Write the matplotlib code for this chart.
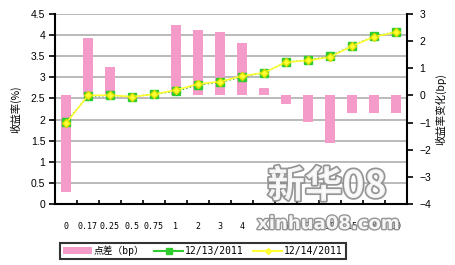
import matplotlib
matplotlib.use('Agg')
import matplotlib.pyplot as plt
import matplotlib.patheffects as pe
from matplotlib.patches import Patch
from matplotlib.lines import Line2D

plt.rcParams['font.family'] = ['Liberation Sans', 'Noto Sans CJK SC', 'DejaVu Sans']

# tenors (years)
tenors = ['0', '0.17', '0.25', '0.5', '0.75', '1', '2', '3', '4', '5', '6', '7', '10', '15', '20', '30']
# yields (%)
yield_1213 = [1.95, 2.55, 2.57, 2.54, 2.60, 2.67, 2.82, 2.88, 3.01, 3.11, 3.36, 3.41, 3.50, 3.75, 3.97, 4.08]
yield_1214 = [1.91, 2.57, 2.58, 2.54, 2.60, 2.70, 2.84, 2.90, 3.03, 3.11, 3.36, 3.40, 3.48, 3.74, 3.96, 4.07]
# change (bp)
spread_bp = [-3.56, 2.1, 1.04, 0.0, 0.0, 2.6, 2.4, 2.33, 1.92, 0.26, -0.3, -0.97, -1.77, -0.66, -0.66, -0.66]

PINK = '#f59bc9'
GREEN = '#2ecc2e'
YELLOW = '#ffff33'
GRID = '#b4b4b4'

fig = plt.figure(figsize=(4.56, 2.65), dpi=100)
ax = fig.add_axes([55 / 456, 1 - 204 / 265, 352 / 456, 190 / 265])
x = list(range(len(tenors)))

# base axis: left scale + gridlines
ax.set_ylim(0, 4.5)
ax.set_yticks([i * 0.5 for i in range(10)])
ax.set_yticklabels(['0', '0.5', '1', '1.5', '2', '2.5', '3', '3.5', '4', '4.5'])
ax.yaxis.grid(True, color=GRID, linewidth=1.3)
ax.set_axisbelow(True)
ax.set_xlim(-0.5, len(tenors) - 0.5)
ax.set_xticks([i - 0.5 for i in range(1, len(tenors))])
ax.set_xticklabels([])
ax.set_xticks(x, minor=True)
ax.set_xticklabels(tenors, minor=True, family='DejaVu Sans Mono', fontsize=6)
ax.tick_params(axis='x', which='major', direction='in', length=3, width=1.2)
ax.tick_params(axis='x', which='minor', length=0, pad=13)
ax.tick_params(axis='y', direction='out', length=4, width=1.2, labelsize=7.5, pad=3)
for s in ['left', 'bottom']:
    ax.spines[s].set_linewidth(1.5)
ax.spines['top'].set_visible(False)
ax.spines['right'].set_visible(False)
ax.set_ylabel('收益率(%)', fontsize=7.5, family=['Noto Sans CJK SC'], labelpad=7)

# bars on the right scale
axb = ax.twinx()
axb.bar(x, spread_bp, width=0.42, color=PINK, zorder=2)
axb.set_ylim(-4, 3)
axb.set_yticks(range(-4, 4))
axb.tick_params(axis='y', direction='out', length=4, width=1.2, labelsize=7.5, pad=5)
axb.spines['right'].set_linewidth(1.5)
for s in ['top', 'left', 'bottom']:
    axb.spines[s].set_visible(False)
axb.set_ylabel('收益率变化(bp)', fontsize=7.5, family=['Noto Sans CJK SC'], labelpad=3)

# yield curves on top
axl = ax.twinx()
axl.set_ylim(0, 4.5)
axl.axis('off')
axl.plot(x, yield_1213, color='#22aa22', linewidth=1.0, linestyle=':', marker='s',
         markersize=6, markerfacecolor=GREEN, markeredgecolor=GREEN)
axl.plot(x, yield_1214, color=YELLOW, linewidth=1.2, marker='D',
         markersize=4.5, markerfacecolor=YELLOW, markeredgecolor='#d8e000')

# legend
handles = [Patch(facecolor=PINK, edgecolor='none'),
           Line2D([], [], color=GREEN, linewidth=1.5, marker='s', markersize=5),
           Line2D([], [], color=YELLOW, linewidth=1.5, marker='D', markersize=3)]
labels = ['点差（bp）', '12/13/2011', '12/14/2011']
leg = fig.legend(handles, labels, loc='lower left',
                 bbox_to_anchor=(60 / 456, 1 - 259 / 265, 286 / 456, 20 / 265),
                 mode='expand', ncol=3, frameon=True, fancybox=False,
                 borderaxespad=0, handlelength=3.0, handletextpad=0.2,
                 columnspacing=0.8, borderpad=0.3,
                 prop={'family': ['DejaVu Sans Mono', 'Noto Sans CJK SC'], 'size': 7})
leg.get_frame().set_edgecolor('black')
leg.get_frame().set_linewidth(1.5)

# watermark
wm = [pe.withStroke(linewidth=2.5, foreground='#8a8a8a')]
fig.text(327 / 456, 1 - 186 / 265, '新华08', fontsize=27, fontweight='bold', color='white',
         family=['Noto Sans CJK SC'], ha='center', va='center', path_effects=wm, alpha=0.9)
fig.text(328 / 456, 1 - 224 / 265, 'xinhua08.com', fontsize=13, fontweight='bold', color='white',
         family=['DejaVu Sans'], ha='center', va='center',
         path_effects=[pe.withStroke(linewidth=2, foreground='#8a8a8a')], alpha=0.9)

fig.savefig('out.png', dpi=100)
